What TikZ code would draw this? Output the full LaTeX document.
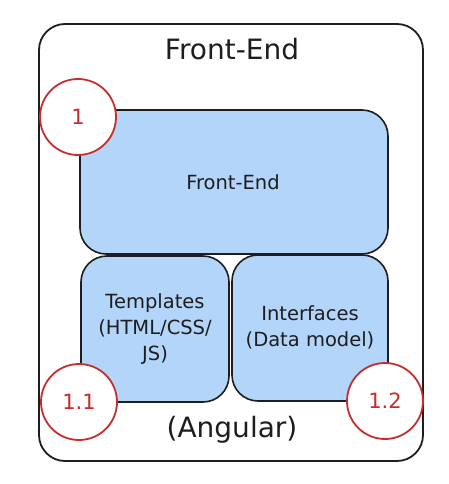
\documentclass[tikz,border=0pt]{standalone}
\usepackage{fontspec}
\setmainfont{DejaVu Sans}
\definecolor{inkblack}{HTML}{1E1E1E}
\definecolor{boxblue}{HTML}{B2D5F9}
\definecolor{markred}{HTML}{C62D2D}
\begin{document}
\begin{tikzpicture}[x=1pt,y=-1pt,
  outerbox/.style={draw=inkblack,line width=1.8pt,rounded corners=26pt},
  bluebox/.style={draw=inkblack,fill=boxblue,line width=1.6pt,rounded corners=26pt},
  marker/.style={circle,draw=markred,line width=1.8pt,fill=white,minimum size=76pt,inner sep=0pt,text=markred,font=\fontsize{21}{24}\selectfont},
  bigtext/.style={text=inkblack,font=\fontsize{28}{32}\selectfont},
  smalltext/.style={text=inkblack,font=\fontsize{19.5}{26}\selectfont,align=center}]
\useasboundingbox (0,0) rectangle (448,484);
\draw[outerbox] (39,24) rectangle (423,461);
\node[bigtext] (title) at (232,49) {Front-End};
\node[bigtext] (angular) at (232,430) {(Angular)};
\draw[bluebox] (80,110) rectangle (388,254);
\node[smalltext] (fe) at (233,182) {Front-End};
\draw[bluebox] (81,256) rectangle (229,402);
\node[smalltext] (tpl) at (155,329) {Templates\\(HTML/CSS/\\JS)};
\draw[bluebox] (232,255) rectangle (388,401);
\node[smalltext] (ifc) at (310,327) {Interfaces\\(Data model)};
\node[marker] (m1) at (78,117) {1};
\node[marker] (m11) at (79,402) {1.1};
\node[marker] (m12) at (385,401) {1.2};
\end{tikzpicture}
\end{document}
